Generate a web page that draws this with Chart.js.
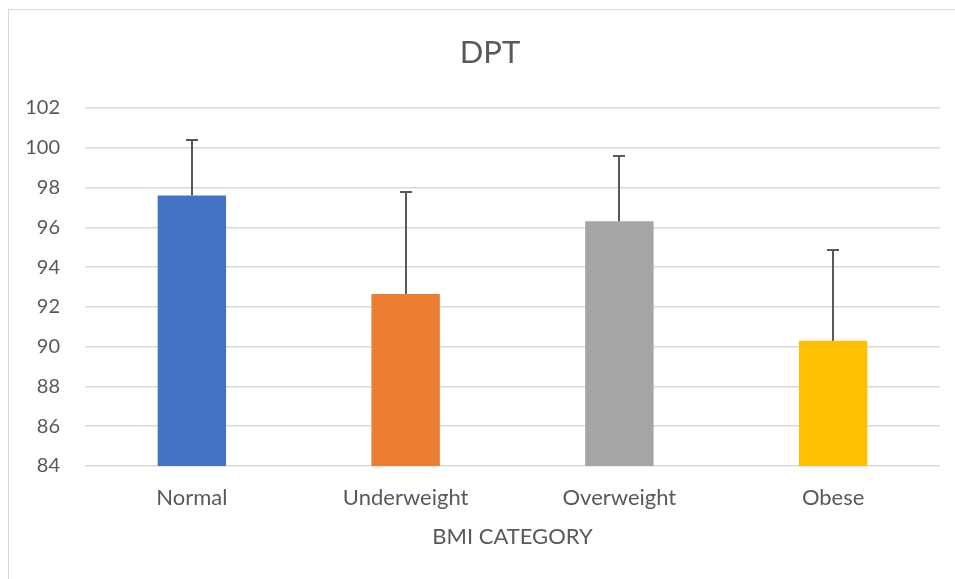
<!DOCTYPE html>
<html>
<head>
<meta charset="utf-8">
<script src="https://cdn.jsdelivr.net/npm/chart.js@4.4.0/dist/chart.umd.min.js"></script>
<style>
html,body{margin:0;padding:0;background:#fff;}
#wrap{position:absolute;left:0;top:0;width:955px;height:579px;}
</style>
</head>
<body>
<div id="wrap"><canvas id="c" width="955" height="579"></canvas></div>
<script>
const categories = ["Normal", "Underweight", "Overweight", "Obese"];
const means = [97.6, 92.65, 96.3, 90.3];
const errors = [2.8, 5.15, 3.3, 4.55];
const barColors = ["#4472C4", "#ED7D31", "#A5A5A5", "#FFC000"];
const yMin = 84, yMax = 102, yStep = 2;
const chartTitle = 'DPT';
const xTitle = 'BMI CATEGORY';

const FONT = 'Lato, "Open Sans", sans-serif';

const frame = {
  id: 'frame',
  beforeDraw(chart) {
    const ctx = chart.ctx;
    ctx.save();
    ctx.fillStyle = '#fff';
    ctx.fillRect(0, 0, chart.width, chart.height);
    ctx.strokeStyle = '#d9d9d9';
    ctx.lineWidth = 1;
    ctx.strokeRect(8.5, 9.5, 960, 580);
    ctx.fillStyle = '#595959';
    ctx.font = '31px ' + FONT;
    ctx.textAlign = 'center';
    ctx.textBaseline = 'middle';
    ctx.fillText(chartTitle, 490, 53);
    ctx.restore();
  }
};

const errorBars = {
  id: 'errorBars',
  afterDatasetsDraw(chart) {
    const ctx = chart.ctx;
    const meta = chart.getDatasetMeta(0);
    const y = chart.scales.y;
    ctx.save();
    ctx.strokeStyle = '#595959';
    ctx.lineWidth = 2;
    meta.data.forEach((bar, i) => {
      const x = Math.round(bar.x);
      const y0 = y.getPixelForValue(means[i]);
      const y1 = Math.round(y.getPixelForValue(means[i] + errors[i]));
      ctx.beginPath();
      ctx.moveTo(x, y0);
      ctx.lineTo(x, y1);
      ctx.moveTo(x - 6, y1);
      ctx.lineTo(x + 6, y1);
      ctx.stroke();
    });
    ctx.restore();
  }
};

new Chart(document.getElementById('c'), {
  type: 'bar',
  data: {
    labels: categories,
    datasets: [{
      data: means,
      backgroundColor: barColors,
      borderWidth: 0,
      categoryPercentage: 1,
      barPercentage: 0.32
    }]
  },
  options: {
    responsive: false,
    animation: false,
    events: [],
    layout: { padding: { left: 0, right: 15, top: 108, bottom: 0 } },
    plugins: {
      legend: { display: false },
      tooltip: { enabled: false },
      title: { display: false }
    },
    scales: {
      x: {
        afterFit(scale) { scale.height = 113; },
        grid: { display: false, drawTicks: false },
        border: { display: false },
        ticks: {
          color: '#595959',
          font: { family: FONT, size: 22 },
          padding: 19
        },
        title: {
          display: true,
          text: xTitle,
          color: '#595959',
          font: { family: FONT, size: 22 },
          padding: { top: 12.4, bottom: 28.8 }
        }
      },
      y: {
        min: yMin,
        max: yMax,
        afterFit(scale) { scale.width = 85; },
        grid: { color: '#d9d9d9', lineWidth: 1.5, drawTicks: false },
        border: { display: false },
        ticks: {
          stepSize: yStep,
          color: '#595959',
          font: { family: FONT, size: 20 },
          padding: 25
        }
      }
    }
  },
  plugins: [frame, errorBars]
});
</script>
</body>
</html>
